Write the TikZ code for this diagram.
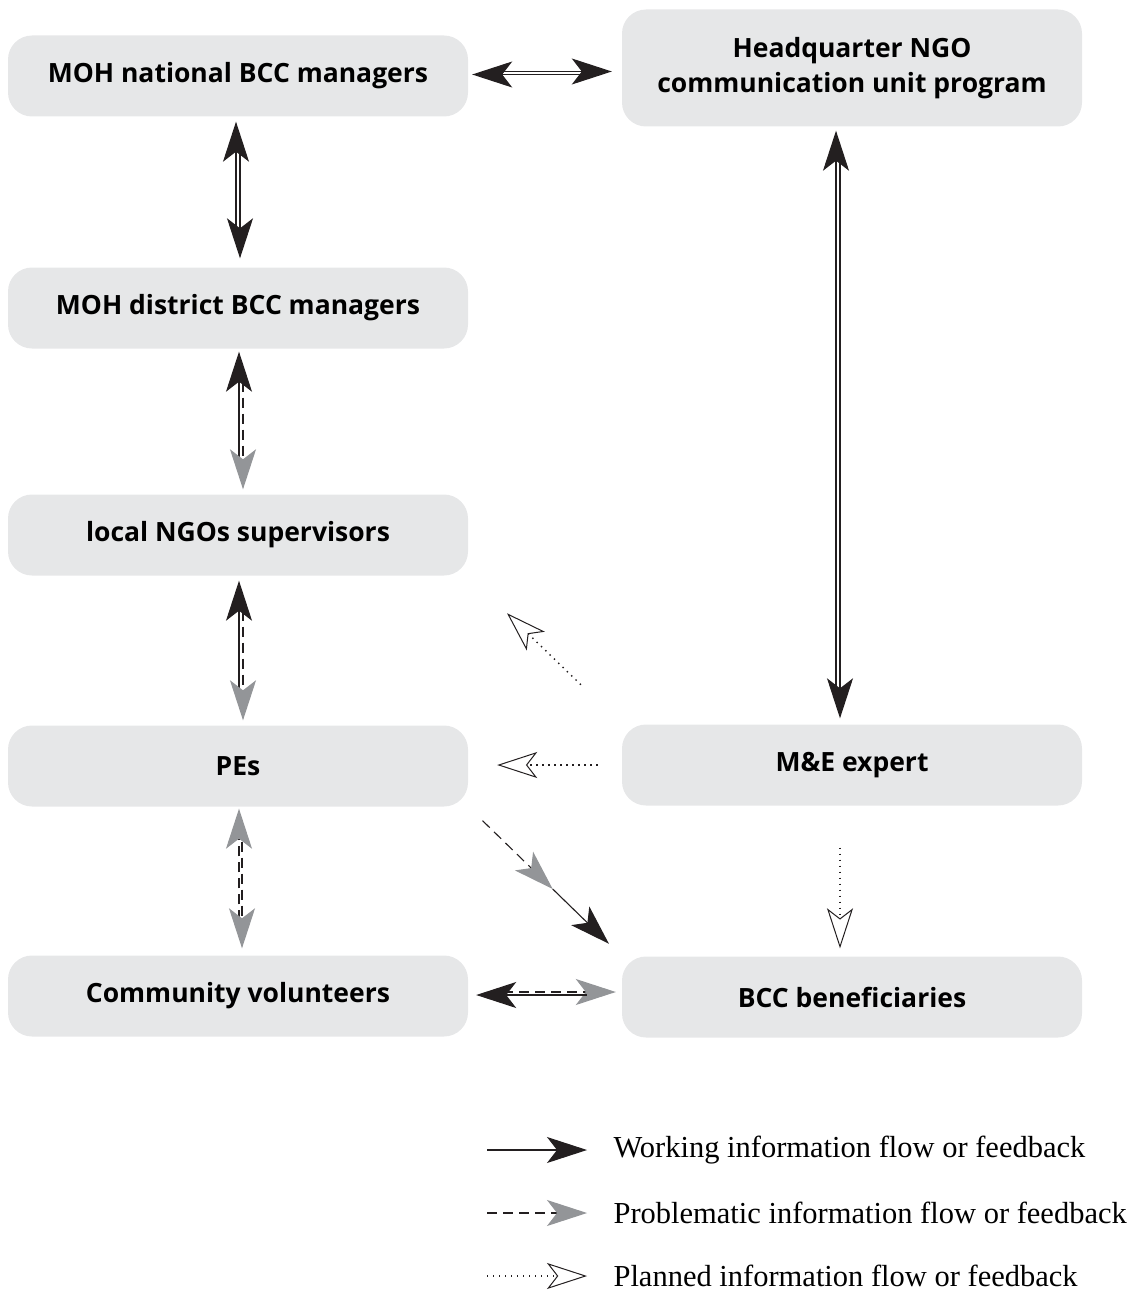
\documentclass[tikz,border=0pt]{standalone}
\usepackage{fontspec}
\setmainfont{Liberation Serif}
\setsansfont{Open Sans}
\usetikzlibrary{arrows.meta,calc}
\definecolor{boxgray}{HTML}{E6E7E8}
\definecolor{headgray}{HTML}{939598}
\definecolor{headblack}{HTML}{231F20}

\begin{document}
\begin{tikzpicture}[x=1pt,y=-1pt,
        box/.style={rounded corners=24pt,fill=boxgray,minimum width=460pt,minimum height=81pt,
            align=center,font=\sffamily\bfseries\fontsize{26.5}{35}\selectfont},
        work/.style={line width=1.1pt,draw=headblack,
            -{Stealth[length=40pt,width=26pt,inset=10pt]}},
        prob/.style={line width=1.1pt,draw=headblack,dash pattern=on 10pt off 6pt,
            -{Stealth[length=40pt,width=26pt,inset=10pt,color=headgray]}},
        plan/.style={line width=1.4pt,draw=headblack,dash pattern=on 1.4pt off 4.6pt,
            -{Stealth[length=40pt,width=26pt,inset=10pt,fill=white,line width=1pt]}},
        legend text/.style={anchor=west,font=\fontsize{30.5}{36}\selectfont},
    ]
    \useasboundingbox (0,0) rectangle (1133,1295);

    % boxes
    \node[box] (nat) at (238,76) {MOH national BCC managers};
    \node[box,minimum height=117pt] (hq) at (852,68) {Headquarter NGO\\communication unit program};
    \node[box] (dist) at (238,308) {MOH district BCC managers};
    \node[box] (ngo) at (238,535) {local NGOs supervisors};
    \node[box] (pe) at (238,766) {PEs};
    \node[box] (me) at (852,765) {M\&E expert};
    \node[box] (vol) at (238,996) {Community volunteers};
    \node[box] (ben) at (852,997) {BCC beneficiaries};

    % two-way links
    \coordinate (hqw) at (nat.east -| hq.west);
    \draw[work,shorten >=10pt,shorten <=35pt] ([yshift=4.5pt]nat.east) -- ([yshift=4.5pt]hqw);
    \draw[work,shorten >=4pt,shorten <=41pt] ([yshift=1.5pt]hqw) -- ([yshift=1.5pt]nat.east);

    \draw[work,shorten >=5pt,shorten <=35pt] ([xshift=-2pt]dist.north) -- ([xshift=-2pt]nat.south);
    \draw[work,shorten >=9pt,shorten <=35pt] ([xshift=2pt]nat.south) -- ([xshift=2pt]dist.north);

    \draw[work,shorten >=3pt,shorten <=35pt] ([xshift=1pt]ngo.north) -- ([xshift=1pt]dist.south);
    \draw[prob,shorten >=5pt,shorten <=33pt] ([xshift=5pt]dist.south) -- ([xshift=5pt]ngo.north);

    \draw[work,shorten >=5pt,shorten <=35pt] ([xshift=1pt]pe.north) -- ([xshift=1pt]ngo.south);
    \draw[prob,shorten >=5pt,shorten <=35pt] ([xshift=5pt]ngo.south) -- ([xshift=5pt]pe.north);

    \draw[prob,shorten >=2pt,shorten <=35pt] ([xshift=1pt]vol.north) -- ([xshift=1pt]pe.south);
    \draw[prob,shorten >=7pt,shorten <=35pt] ([xshift=4pt]pe.south) -- ([xshift=4pt]vol.north);

    \coordinate (benw) at (vol.east -| ben.west);
    \draw[prob,shorten >=6pt,shorten <=35pt] ([yshift=4pt]vol.east) -- ([yshift=4pt]benw);
    \draw[work,shorten >=8pt,shorten <=35pt] ([yshift=1pt]benw) -- ([yshift=1pt]vol.east);

    \draw[work,shorten >=4pt,shorten <=35pt] ([xshift=-16pt]me.north) -- ([xshift=-16pt]hq.south);
    \draw[work,shorten >=6pt,shorten <=35pt] ([xshift=-12pt]hq.south) -- ([xshift=-12pt]me.north);

    % PEs to beneficiaries
    \coordinate (pb) at ($(pe.south east)!0.55!(ben.north west)$);
    \draw[prob,shorten <=20pt] (pe.south east) -- (pb);
    \draw[work,shorten >=18pt] (pb) -- (ben.north west);

    % planned links
    \draw[plan,shorten <=57pt,shorten >=54pt] (me.north west) -- (ngo.south east);
    \draw[plan,shorten <=24pt,shorten >=29pt] (me.west) -- (me.west -| pe.east);
    \draw[plan,shorten <=42pt,shorten >=8pt] ([xshift=-12pt]me.south) -- ([xshift=-12pt]ben.north);

    % legend
    \coordinate (w0) at (487,1150); \coordinate (w1) at (587,1150);
    \coordinate (p0) at (487,1213); \coordinate (p1) at (587,1213);
    \coordinate (n0) at (487,1276); \coordinate (n1) at (587,1276);
    \draw[work] (w0) -- (w1);
    \draw[prob] (p0) -- (p1);
    \draw[plan] (n0) -- (n1);
    \node[legend text] (wt) at (610,1150) {Working information flow or feedback};
    \node[legend text] (pt) at (610,1213) {Problematic information flow or feedback};
    \node[legend text] (nt) at (610,1276) {Planned information flow or feedback};
\end{tikzpicture}
\end{document}
